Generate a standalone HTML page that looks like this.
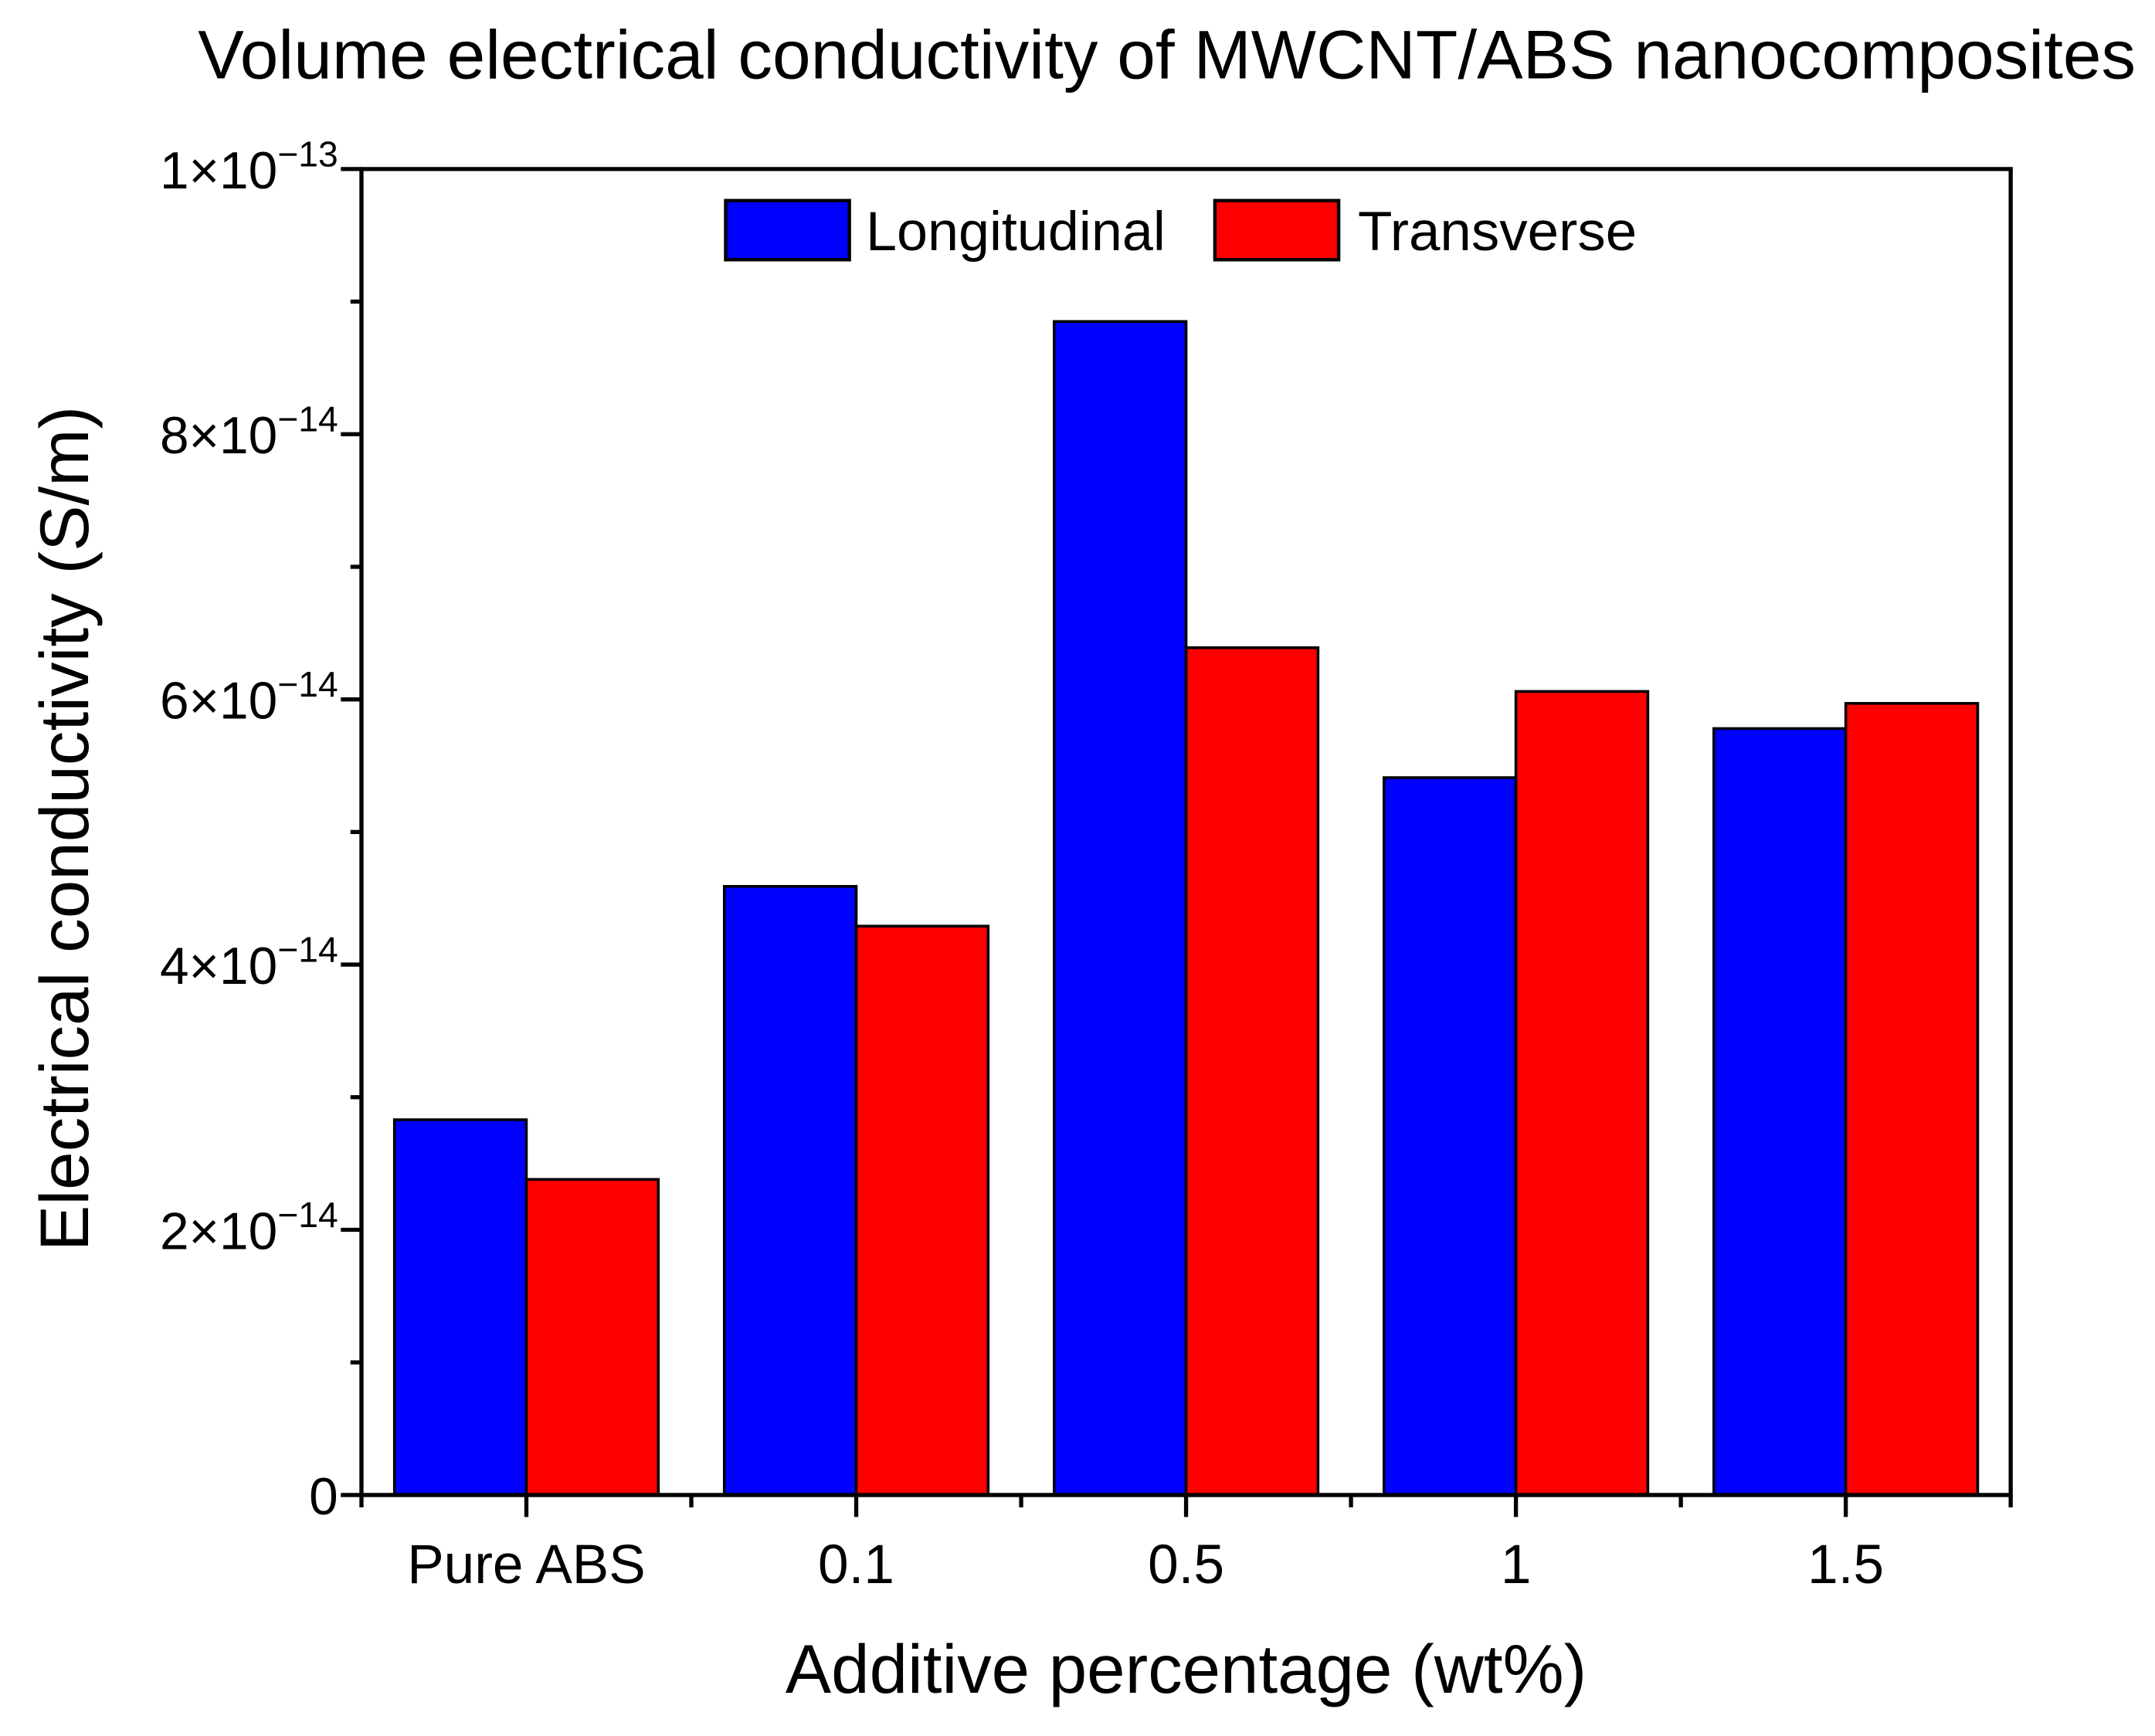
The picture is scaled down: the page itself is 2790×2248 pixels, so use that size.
<!DOCTYPE html>
<html><head><meta charset="utf-8"><style>html,body{margin:0;padding:0;background:#fff}svg{display:block}text{font-family:"Liberation Sans",sans-serif;fill:#000}</style></head>
<body>
<svg id="chart" width="2790" height="2248" viewBox="0 0 1568 1263.4" preserveAspectRatio="none" xmlns="http://www.w3.org/2000/svg">
<text x="849" y="57" font-size="50" text-anchor="middle" textLength="1410" lengthAdjust="spacingAndGlyphs">Volume electrical conductivity of MWCNT/ABS nanocomposites</text>
<g id="bars"></g>
<g id="axes"></g>
<g>
<rect x="528" y="146" width="90" height="43" fill="#0000ff" stroke="#000" stroke-width="2.5"/>
<text x="630" y="182" font-size="40" textLength="218" lengthAdjust="spacingAndGlyphs">Longitudinal</text>
<rect x="884" y="146" width="90" height="43" fill="#ff0000" stroke="#000" stroke-width="2.5"/>
<text x="988" y="182" font-size="40" textLength="203" lengthAdjust="spacingAndGlyphs">Transverse</text>
</g>
<text x="863" y="1232" font-size="50" text-anchor="middle" textLength="583" lengthAdjust="spacingAndGlyphs">Additive percentage (wt%)</text>
<text transform="translate(64,603) rotate(-90)" font-size="50" text-anchor="middle" textLength="615" lengthAdjust="spacingAndGlyphs">Electrical conductivity (S/m)</text>
</svg>
<script>
const categories = ["Pure ABS", "0.1", "0.5", "1", "1.5"];
const longitudinal = [2.83e-14, 4.59e-14, 8.85e-14, 5.41e-14, 5.78e-14];
const transverse = [2.38e-14, 4.29e-14, 6.39e-14, 6.06e-14, 5.97e-14];
const yTickValues = [0, 2e-14, 4e-14, 6e-14, 8e-14, 1e-13];
const yTickMant = ["0", "2", "4", "6", "8", "1"];
const yTickExp = ["", "\u221214", "\u221214", "\u221214", "\u221214", "\u221213"];

const NS = "http://www.w3.org/2000/svg";
const L = 263, R = 1463, T = 123, B = 1088, yMax = 1e-13;
const step = (R - L) / categories.length;
function xCenter(i) { return L + step * (i + 0.5); }
function y(v) { return B - (v / yMax) * (B - T); }
const barW = step * 0.4;
function mk(tag, attrs, parent) {
  const e = document.createElementNS(NS, tag);
  for (const k in attrs) e.setAttribute(k, attrs[k]);
  parent.appendChild(e);
  return e;
}
const bars = document.getElementById("bars");
const axes = document.getElementById("axes");
categories.forEach((c, i) => {
  const cx = xCenter(i);
  const b = mk("rect", { x: cx - barW, y: y(longitudinal[i]), width: barW, height: B - y(longitudinal[i]), fill: "#0000ff", stroke: "#000", "stroke-width": 2 }, bars);
  
  
  const r = mk("rect", { x: cx, y: y(transverse[i]), width: barW, height: B - y(transverse[i]), fill: "#ff0000", stroke: "#000", "stroke-width": 2 }, bars);
  
  
  const t = mk("line", { x1: cx, x2: cx, y1: B, y2: B + 16, stroke: "#000", "stroke-width": 3 }, axes);
  
  
  const lb = mk("text", { x: cx, y: B + 64, "font-size": 40, "text-anchor": "middle" }, axes);
  lb.textContent = c;
  
  
});
for (let i = 0; i <= categories.length; i++) {
  const mx = L + step * i;
  const m = mk("line", { x1: mx, x2: mx, y1: B, y2: B + 9, stroke: "#000", "stroke-width": 3 }, axes);
  
  
}
yTickValues.forEach((v, i) => {
  const yy = y(v);
  const t = mk("line", { x1: L - 15, x2: L, y1: yy, y2: yy, stroke: "#000", "stroke-width": 3 }, axes);
  
  
  if (i < yTickValues.length - 1) {
    const my = y(v + 1e-14);
    const m = mk("line", { x1: L - 8, x2: L, y1: my, y2: my, stroke: "#000", "stroke-width": 3 }, axes);
    
    
  }
  const lb = mk("text", { x: 246, y: yy + 14, "font-size": 38, "text-anchor": "end" }, axes);
  
  
  if (yTickExp[i] === "") { lb.textContent = yTickMant[i]; }
  else {
    const a = mk("tspan", {}, lb); a.textContent = yTickMant[i] + "\u00d710";
    const s = mk("tspan", { dy: -16, "font-size": 26 }, lb); s.textContent = yTickExp[i];
  }
});
const frame = mk("path", { d: `M${L},${T} H${R} V${B} H${L} Z`, fill: "none", stroke: "#000", "stroke-width": 3 }, axes);


</script>
</body></html>
